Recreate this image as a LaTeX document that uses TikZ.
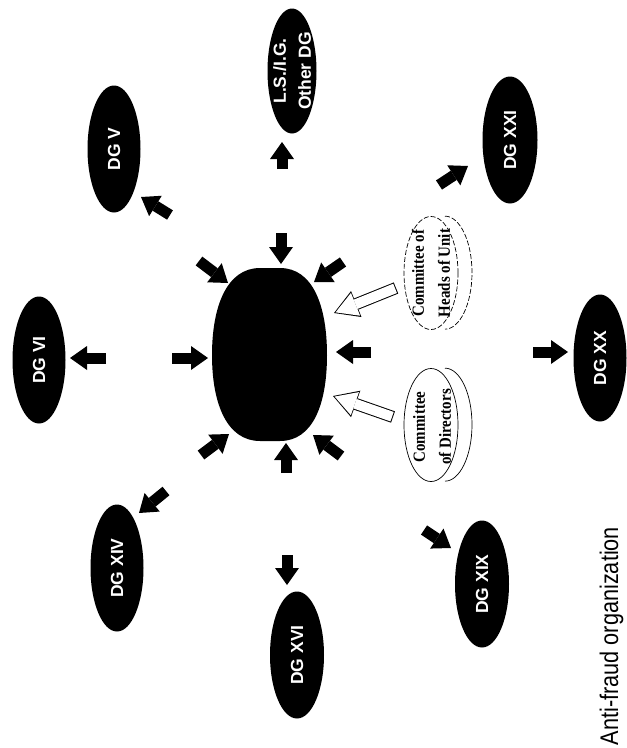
\documentclass[tikz,border=0pt]{standalone}
\usepackage{fontspec}
\setmainfont{Liberation Serif}
\setsansfont{Liberation Sans}
\usetikzlibrary{shapes.geometric,arrows.meta}
\begin{document}
\begin{tikzpicture}[x=1pt,y=-1pt,
  dg/.style={ellipse,fill=black,inner sep=0pt,minimum width=53pt,minimum height=127pt},
  dgtext/.style={rotate=90,text=white,font=\sffamily\bfseries\fontsize{17.5}{25}\selectfont,align=center,inner sep=0pt},
  comm/.style={ellipse,draw=black,line width=0.7pt,inner sep=0pt,minimum width=54pt,minimum height=113pt},
  commtext/.style={rotate=90,xscale=0.88,font=\bfseries\fontsize{17}{26}\selectfont,align=center,inner sep=0pt},
  blk/.style={line width=11pt,-{Triangle[length=17pt,width=24pt,line width=0pt]}},
  hollowout/.style={line width=12pt,-{Triangle[length=24pt,width=28pt,line width=0pt]}},
  hollowin/.style={white,line width=10pt,shorten <=1pt,shorten >=1.7pt,-{Triangle[length=21.5pt,width=24.5pt,line width=0pt]}},
  caption/.style={rotate=90,xscale=0.85,font=\sffamily\fontsize{25.5}{30}\selectfont,inner sep=0pt,anchor=base}
]
\useasboundingbox (0,0) rectangle (627,748);
\fill[white] (0,0) rectangle (627,748);

% central shape
\fill[black] (260,268) -- (280,268) .. controls (313,268) and (327,306) .. (327,355)
  .. controls (327,404) and (313,441) .. (280,441) -- (260,441)
  .. controls (227,441) and (212,404) .. (212,355)
  .. controls (212,306) and (227,268) .. (260,268) -- cycle;
\coordinate (central) at (270,355);

% outer DG nodes
\node[dg,minimum width=49pt,minimum height=125pt] (ls) at (292,71) {};
\node[dgtext] (tls) at (ls) {L.S./I.G.\\Other DG};
\node[dg] (dgv) at (114,149) {};
\node[dgtext] (tdgv) at (dgv) {DG V};
\node[dg,minimum width=55pt] (dgxxi) at (510,140) {};
\node[dgtext] (tdgxxi) at (dgxxi) {DG XXI};
\node[dg] (dgvi) at (39,360) {};
\node[dgtext] (tdgvi) at (dgvi) {DG VI};
\node[dg] (dgxx) at (600,358) {};
\node[dgtext] (tdgxx) at (dgxx) {DG XX};
\node[dg] (dgxiv) at (117,568) {};
\node[dgtext] (tdgxiv) at (dgxiv) {DG XIV};
\node[dg,minimum width=54pt] (dgxvi) at (297,655) {};
\node[dgtext] (tdgxvi) at (dgxvi) {DG XVI};
\node[dg,minimum width=54pt] (dgxix) at (482,584) {};
\node[dgtext] (tdgxix) at (dgxix) {DG XIX};

% committees
\node[comm,dash pattern=on 5pt off 2pt] (heads) at (431,273) {};
\draw[line width=0.7pt,dash pattern=on 5pt off 2pt] ([xshift=14pt]heads.north) arc[start angle=90,end angle=-90,x radius=27pt,y radius=56.5pt];
\node[commtext] (theads) at (431,273) {Committee of\\Heads of Unit};
\node[comm] (dirs) at (431,425) {};
\draw[line width=0.7pt] ([xshift=14pt]dirs.north) arc[start angle=90,end angle=-90,x radius=27pt,y radius=56.5pt];
\node[commtext] (tdirs) at (432,427) {Committee\\of Directors};

% arrow end points
\coordinate (a1s) at (281,233); \coordinate (a1e) at (281,264);
\coordinate (a2s) at (199,261); \coordinate (a2e) at (228,283);
\coordinate (a3s) at (343,262); \coordinate (a3e) at (314,282);
\coordinate (a4s) at (172,358); \coordinate (a4e) at (208,358);
\coordinate (a5s) at (371,352); \coordinate (a5e) at (336,352);
\coordinate (a6s) at (201,455); \coordinate (a6e) at (229,434);
\coordinate (a7s) at (286,473); \coordinate (a7e) at (286,443);
\coordinate (a8s) at (341,456); \coordinate (a8e) at (313,435);
\coordinate (b1s) at (282,169); \coordinate (b1e) at (282,142);
\coordinate (b2s) at (170,215); \coordinate (b2e) at (141,197);
\coordinate (b3s) at (439,185); \coordinate (b3e) at (468,166);
\coordinate (b4s) at (106,358); \coordinate (b4e) at (70,358);
\coordinate (b5s) at (533,352); \coordinate (b5e) at (568,352);
\coordinate (b6s) at (166,491); \coordinate (b6e) at (139,513);
\coordinate (b7s) at (287,555); \coordinate (b7e) at (287,585);
\coordinate (b8s) at (424,530); \coordinate (b8e) at (451,548);
\coordinate (h1s) at (396,288); \coordinate (h1e) at (334,313);
\coordinate (h2s) at (393,417); \coordinate (h2e) at (333,396);

% arrows towards the centre
\foreach \n in {1,...,8} {\draw[blk] (a\n s) -- (a\n e);}
% arrows towards the DGs
\foreach \n in {1,...,8} {\draw[blk] (b\n s) -- (b\n e);}
% hollow arrows from the committees
\draw[hollowout] (h1s) -- (h1e);
\draw[hollowin] (h1s) -- (h1e);
\draw[hollowout] (h2s) -- (h2e);
\draw[hollowin] (h2s) -- (h2e);

\node[caption] (cap) at (618,636) {Anti-fraud organization};
\end{tikzpicture}
\end{document}
